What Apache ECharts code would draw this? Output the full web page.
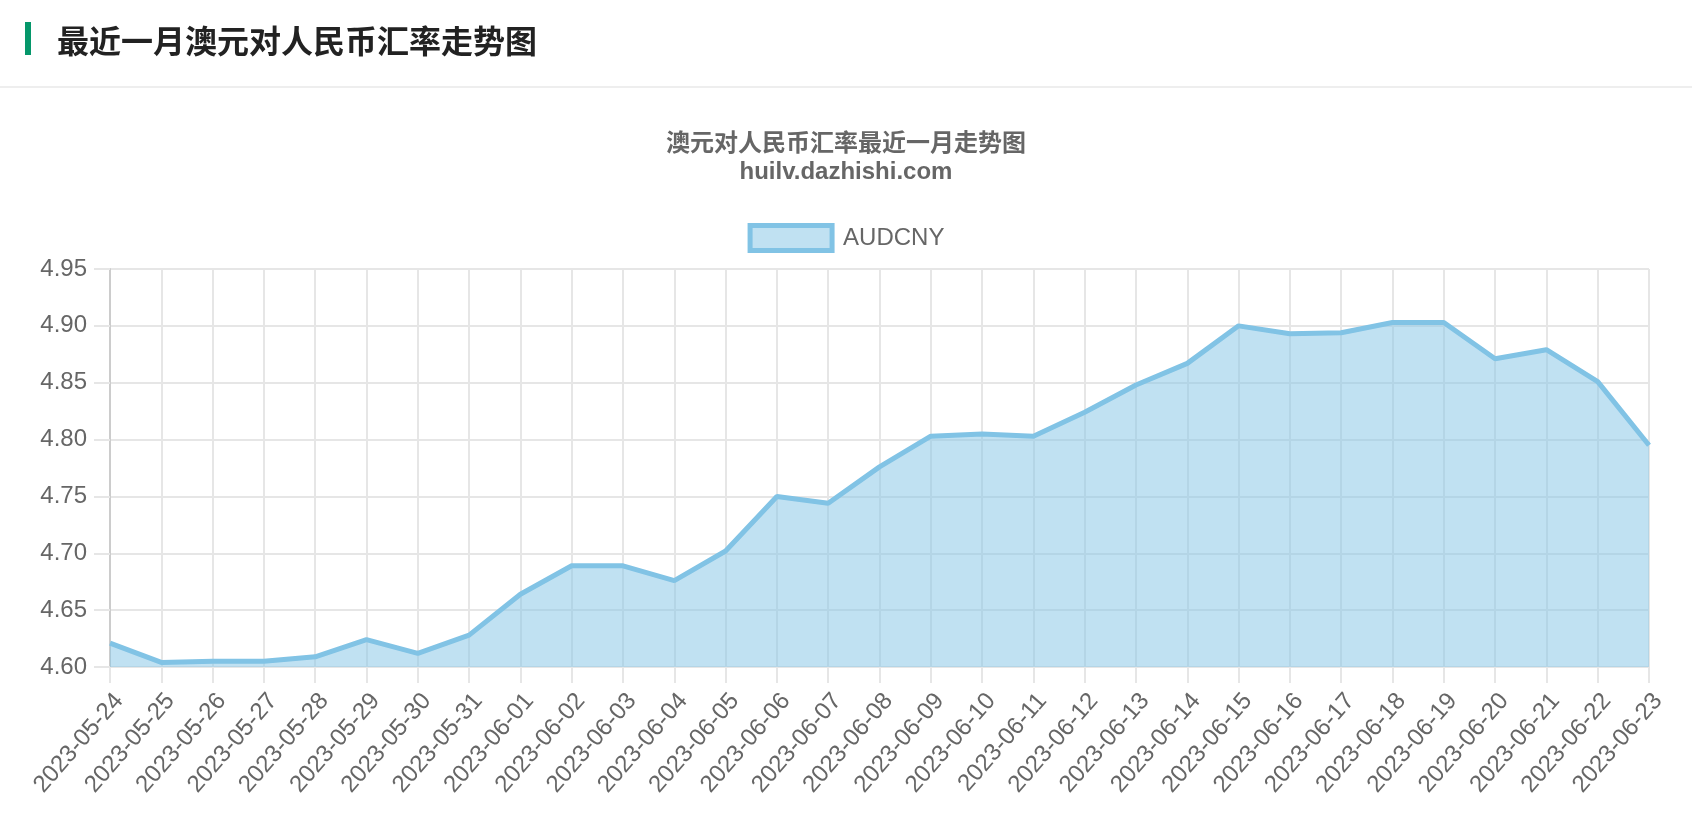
<!DOCTYPE html>
<html>
<head>
<meta charset="utf-8">
<script src="https://cdn.jsdelivr.net/npm/echarts@6/dist/echarts.min.js"></script>
<style>
  html, body { margin: 0; padding: 0; background: #fff; width: 1692px; height: 818px; overflow: hidden; }
  #header { position: absolute; left: 0; top: 0; width: 1692px; height: 86px; border-bottom: 2px solid #eeeeee; z-index: 2; }
  #bar { position: absolute; left: 25px; top: 22px; width: 6px; height: 33px; background: #05976a; }
  #htitle { position: absolute; left: 57px; top: 17px; font-family: "Noto Sans CJK SC", sans-serif; font-weight: bold; font-size: 32px; line-height: 44px; color: #222; }
  #chart { position: absolute; left: 0; top: 0; width: 1692px; height: 818px; z-index: 1; }
</style>
</head>
<body>
<div id="header"><div id="bar"></div><div id="htitle">最近一月澳元对人民币汇率走势图</div></div>
<div id="chart"></div>
<script>
const chartTitle = '澳元对人民币汇率最近一月走势图';
const chartSubtitle = 'huilv.dazhishi.com';
const seriesName = 'AUDCNY';
const dates = [
  '2023-05-24','2023-05-25','2023-05-26','2023-05-27','2023-05-28','2023-05-29','2023-05-30','2023-05-31',
  '2023-06-01','2023-06-02','2023-06-03','2023-06-04','2023-06-05','2023-06-06','2023-06-07','2023-06-08',
  '2023-06-09','2023-06-10','2023-06-11','2023-06-12','2023-06-13','2023-06-14','2023-06-15','2023-06-16',
  '2023-06-17','2023-06-18','2023-06-19','2023-06-20','2023-06-21','2023-06-22','2023-06-23'
];
const rates = [
  4.621, 4.604, 4.605, 4.605, 4.609, 4.624, 4.612, 4.628,
  4.664, 4.689, 4.689, 4.676, 4.702, 4.750, 4.744, 4.776,
  4.803, 4.805, 4.803, 4.824, 4.848, 4.867, 4.900, 4.893,
  4.894, 4.903, 4.903, 4.871, 4.879, 4.851, 4.795
];
const yMin = 4.60, yMax = 4.95, yStep = 0.05;

const FONT = '"Liberation Sans", Arial, "Noto Sans CJK SC", sans-serif';
const lineColor = '#81c3e5';
const fillColor = 'rgba(129,195,229,0.5)';
const gridColor = '#e6e6e6';

const chart = echarts.init(document.getElementById('chart'), null, { renderer: 'canvas' });
chart.setOption({
  animation: false,
  title: [
    { text: chartTitle, left: 'center', top: 125, textStyle: { fontFamily: '"Noto Sans CJK SC", sans-serif', fontSize: 24, fontWeight: 'bold', color: '#666' } },
    { text: chartSubtitle, left: 'center', top: 155, textStyle: { fontFamily: FONT, fontSize: 24, fontWeight: 'bold', color: '#666' } }
  ],
  legend: {
    top: 218, left: 'center',
    itemWidth: 82, itemHeight: 25,
    icon: 'rect',
    textStyle: { fontFamily: FONT, fontSize: 24, color: '#666', padding: [0, 0, 0, 6] },
    data: [{ name: seriesName, icon: 'rect', itemStyle: { color: fillColor, borderColor: lineColor, borderWidth: 5, opacity: 1 } }]
  },
  grid: { left: 110, right: 43, top: 269, bottom: 151, containLabel: false },
  xAxis: {
    type: 'category', boundaryGap: false, data: dates,
    axisLine: { show: false },
    axisTick: { show: true, length: 16, lineStyle: { color: gridColor, width: 2 } },
    splitLine: { show: true, lineStyle: { color: gridColor, width: 2 } },
    axisLabel: { interval: 0, rotate: 49, margin: 22, verticalAlign: 'top', fontFamily: FONT, fontSize: 24, color: '#666' }
  },
  yAxis: {
    type: 'value', min: yMin, max: yMax, interval: yStep,
    axisLine: { show: true, lineStyle: { color: '#cccccc', width: 2 } },
    axisTick: { show: true, length: 16, lineStyle: { color: gridColor, width: 2 } },
    splitLine: { show: true, lineStyle: { color: gridColor, width: 2 } },
    axisLabel: { margin: 23, fontFamily: FONT, fontSize: 24, color: '#666', formatter: v => v.toFixed(2) }
  },
  series: [{
    name: seriesName, type: 'line', data: rates,
    symbol: 'none', smooth: false,
    lineStyle: { color: lineColor, width: 5 },
    itemStyle: { color: lineColor },
    areaStyle: { color: fillColor, opacity: 1, origin: 'start' }
  }]
});
</script>
</body>
</html>
